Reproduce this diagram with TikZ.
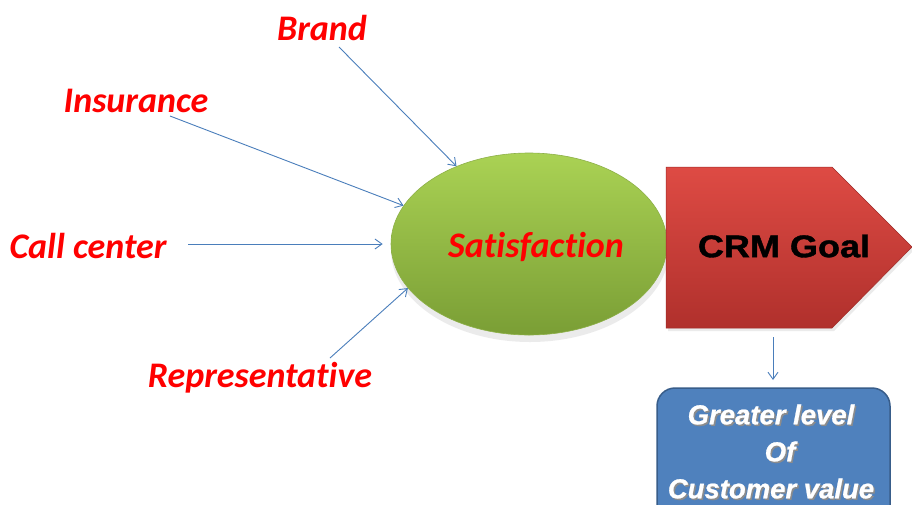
\documentclass[tikz,border=0pt]{standalone}
\usepackage{fontspec}
\setmainfont{Carlito}[Ligatures=NoCommon]
\newfontfamily\arialfont{Liberation Sans}[BoldFeatures={FakeBold=1.2},BoldItalicFeatures={FakeBold=0.8}]
\usetikzlibrary{arrows.meta,shapes.geometric}
\definecolor{lblred}{HTML}{FF0000}
\definecolor{arrblue}{HTML}{4A7EBB}
\definecolor{grtop}{HTML}{AAD254}
\definecolor{grbot}{HTML}{7A9E35}
\definecolor{grline}{HTML}{8DB048}
\definecolor{rdtop}{HTML}{DE4B44}
\definecolor{rdbot}{HTML}{B0302C}
\definecolor{bxfill}{HTML}{4F81BD}
\definecolor{bxline}{HTML}{385D8A}
\tikzset{
  lbl/.style={text=lblred, font=\fontsize{36}{40}\selectfont\bfseries\itshape, inner sep=0pt, anchor=center},
  arr/.style={draw=arrblue, line width=0.9pt, -{Straight Barb[length=7pt,width=10pt,line width=0.9pt]}},
  shadowfill/.style={fill=black, opacity=0.08},
  boxfont/.style={font=\arialfont\fontsize{27.5}{37}\selectfont\bfseries\itshape, align=center, inner sep=0pt},
}
\begin{document}
\begin{tikzpicture}[x=1pt,y=-1pt]
\clip (0,0) rectangle (912,504);
\fill[white] (0,0) rectangle (912,504);

% labels
\node[lbl] (brand) at (322,28) {Brand};
\node[lbl] (ins) at (136,101) {Insurance};
\node[lbl] (call) at (88,246) {Call center};
\node[lbl] (rep) at (260,378) {Representative};

% ellipse shadow and ellipse
\fill[shadowfill] (530,250) ellipse[x radius=139pt, y radius=92pt];
\node[draw=grline, line width=0.6pt, ellipse, minimum width=276pt, minimum height=182pt, inner sep=0pt,
      top color=grtop, bottom color=grbot] (sat) at (529,244) {};
\node[lbl] (sattext) at (536,247) {Satisfaction};

% pentagon arrow
\fill[shadowfill] (668,170) -- (834,170) -- (914,250) -- (834,331) -- (668,331) -- cycle;
\path[top color=rdtop, bottom color=rdbot, draw=rdbot!90!black, line width=0.5pt]
  (666,167) -- (832,167) -- (912,247) -- (832,328) -- (666,328) -- cycle;
\node[font=\arialfont\fontsize{34}{36}\selectfont\bfseries, text=black, inner sep=0pt] (crm) at (784,246) {\scalebox{1.06}[0.92]{CRM Goal}};

% blue box
\node[draw=bxline, line width=1.5pt, fill=bxfill, rounded corners=18pt,
      minimum width=233pt, minimum height=142pt, inner sep=0pt] (box) at (773.5,459) {};
\node[boxfont, text=black!45] (boxshadow) at (772.5,453) {Greater level\\\hspace*{18pt}Of\\Customer value};
\node[boxfont, text=white] (boxtext) at (771,451.5) {Greater level\\\hspace*{18pt}Of\\Customer value};

% connectors
\coordinate (brandS) at (339,47);
\coordinate (insS) at (170,116);
\coordinate (callS) at (188,244);
\coordinate (repS) at (330,358);
\coordinate (crmS) at (773,337);
\coordinate (boxE) at (773,380);
\draw[arr] (brandS) -- (sat.133);
\draw[arr] (insS) -- (sat.163);
\draw[arr, shorten >=8pt] (callS) -- (callS -| sat.west);
\draw[arr] (repS) -- (sat.200);
\draw[arr] (crmS) -- (boxE);
\end{tikzpicture}
\end{document}
